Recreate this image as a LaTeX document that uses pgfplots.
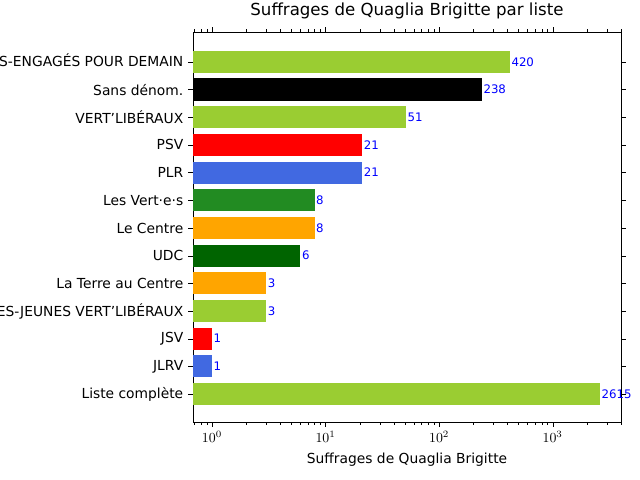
\documentclass[border=0pt]{standalone}
\usepackage{pgfplots}
\pgfplotsset{compat=1.18}
\usepackage{fontspec}
\setmainfont{DejaVu Sans}
\definecolor{yellowgreen}{RGB}{154,205,50}
\begin{document}
\begin{tikzpicture}
\path[use as bounding box] (-1.93in,-0.58in) rectangle (4.47in,4.22in);
\clip (-1.93in,-0.58in) rectangle (4.47in,4.22in);
\begin{axis}[at={(0,0)},anchor=south west,
 width=4.28in,height=3.9in,scale only axis,
 xmode=log, log origin=infty, xmin=0.68, xmax=4000,
 ymin=-1.01, ymax=13.08,
 xbar, bar width=0.8, bar shift=0pt,
 ytick={0,...,12},
 yticklabels={Liste complète,JLRV,JSV,LES JEUNES-JEUNES VERT'LIBÉRAUX,La Terre au Centre,UDC,Le Centre,Les Vert·e·s,PLR,PSV,VERT'LIBÉRAUX,Sans dénom.,LES JEUNES-ENGAGÉS POUR DEMAIN},
 ytick style={black}, xtick style={black},
 tick align=outside, major tick length=3.5pt, minor tick length=2pt,
 tick label style={font=\fontsize{10}{12}\selectfont},
 xlabel={Suffrages de Quaglia Brigitte},
 xlabel style={font=\fontsize{10}{12}\selectfont},
 title={Suffrages de Quaglia Brigitte par liste},
 title style={font=\fontsize{12}{14}\selectfont},
 nodes near coords, point meta=explicit symbolic,
 nodes near coords style={font=\fontsize{8.5}{10}\selectfont, text=blue, anchor=west, inner sep=1pt},
 every axis plot/.append style={draw=none},
]
\addplot[fill=yellowgreen] coordinates {(2615,0) [2615]};
\addplot[fill={rgb,255:red,65;green,105;blue,225}] coordinates {(1,1) [1]};
\addplot[fill=red] coordinates {(1,2) [1]};
\addplot[fill=yellowgreen] coordinates {(3,3) [3]};
\addplot[fill={rgb,255:red,255;green,165;blue,0}] coordinates {(3,4) [3]};
\addplot[fill={rgb,255:red,0;green,100;blue,0}] coordinates {(6,5) [6]};
\addplot[fill={rgb,255:red,255;green,165;blue,0}] coordinates {(8,6) [8]};
\addplot[fill={rgb,255:red,34;green,139;blue,34}] coordinates {(8,7) [8]};
\addplot[fill={rgb,255:red,65;green,105;blue,225}] coordinates {(21,8) [21]};
\addplot[fill=red] coordinates {(21,9) [21]};
\addplot[fill=yellowgreen] coordinates {(51,10) [51]};
\addplot[fill=black] coordinates {(238,11) [238]};
\addplot[fill=yellowgreen] coordinates {(420,12) [420]};
\end{axis}
\end{tikzpicture}
\end{document}
